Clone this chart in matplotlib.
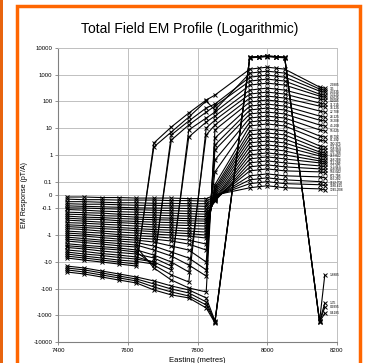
import matplotlib
matplotlib.use("Agg")
import matplotlib.pyplot as plt
from matplotlib.patches import Rectangle

plt.rcParams["font.family"] = ["Liberation Sans", "DejaVu Sans"]

# station eastings (metres)
eastings = [7425, 7475, 7525, 7575, 7625, 7675, 7725, 7775, 7825, 7850,
            7950, 7975, 8000, 8025, 8050, 8150, 8165]

# early time gates (the ones that go through the big positive peak)
early_times = ["0.4185", "0.9395", "1.35", "1.8885"]
early_gates = [
    [-24, -28.5, -37, -48, -62, -113, -173, -224, -530, -1920, 4300, 4500, 4800, 4500, 4300, -1750, -850],
    [-20, -24, -31, -40, -52, -87, -134, -189, -410, -1760, 4400, 4600, 4900, 4600, 4400, -1800, -500],
    [-17, -20, -26, -34, -44, -67, -104, -146, -316, -1760, 4500, 4700, 5000, 4700, 4500, -1700, -350],
    [-14.4, -17, -22, -28.5, -37, -52, -80, -113, -224, -1620, 4600, 4800, 5100, 4800, 4600, -1650, -31],
]

# mid time gates
mid_times = ["2.6885", "3.5", "4.3335", "5.3125", "6.5625", "8.2085", "11.215",
             "16.125", "22.708", "28.125", "38.208", "45.208", "55.625", "68.792"]
mid_gates = [
    [-7.2, -8.6, -10.2, -12.1, -14.4, 2.8, 11.1, 37, 113, 173, 1620, 1760, 1920, 1760, 1620, 345, 316],
    [-6.1, -7.2, -8.6, -10.2, -12.1, 1.99, 7.2, 26, 104, 48, 1150, 1250, 1360, 1250, 1150, 290, 266],
    [-5.1, -6.1, -7.2, -8.6, -9.7, -12.1, 5.6, 18.6, 57, 80, 810, 887, 970, 887, 810, 244, 224],
    [-4.3, -5.1, -5.8, -6.9, -7.9, -10.2, 3.6, 13.2, 40, 67, 580, 629, 690, 629, 580, 189, 173],
    [-3.6, -4.1, -4.9, -5.6, -6.6, -10.2, -20, 8.6, 24, 40, 410, 446, 485, 446, 410, 159, 146],
    [-2.9, -3.3, -3.95, -4.5, -5.1, -7.2, -14.4, 4.7, 17, 28.5, 266, 290, 316, 290, 266, 123, 113],
    [-2.5, -2.8, -3.2, -3.6, -4.3, -13.2, -31, -57, 10.2, 20, 189, 206, 224, 206, 189, 87, 80],
    [-2.1, -2.4, -2.7, -3.06, -3.6, -5.6, -10.2, -24, 5.6, 13.2, 134, 146, 159, 146, 134, 67, 62],
    [-1.67, -1.9, -2.17, -2.5, -2.8, -17, -48, -95, -134, 8.6, 95, 104, 113, 104, 95, 44, 40],
    [-1.41, -1.6, -1.82, -2.07, -2.36, -3.63, -6.08, -13.2, -34, 4.3, 67, 73, 80, 73, 67, 28.5, 26],
    [-1.19, -1.35, -1.54, -1.67, -1.9, -2.57, -4.31, -7.22, -20, 2.36, 48, 52, 57, 52, 48, 20, 18.6],
    [-1.0, -1.09, -1.24, -1.41, -1.54, -1.82, -2.57, -3.63, -10.2, 1.54, 34, 37, 40, 37, 34, 13.2, 12.1],
    [-0.84, -0.92, -1.05, -1.14, -1.29, -1.41, -1.67, -2.17, -3.63, 0.65, 24, 26, 28.5, 26, 24, 8.6, 7.9],
    [-0.71, -0.77, -0.84, -0.96, -1.05, -1.14, -1.29, -1.54, -2.17, 0.232, 17, 18.6, 20, 18.6, 17, 5.1, 4.7],
]

# late time gates
late_times = ["81.292", "100.375", "121.375", "145.958", "176.708", "213.042",
              "258.208", "311.208", "377.375", "458.958", "556.042", "672.708",
              "816.292", "1112.708", "1180.625", "1245.208"]
late_gates = [
    [-0.57, -0.62, -0.71, -0.77, -0.84, -0.92, -1.0, -1.09, -1.29, 0.077, 12.1, 13.2, 14.4, 13.2, 12.1, 3.6, 3.3],
    [-0.48, -0.52, -0.57, -0.62, -0.68, -0.74, -0.81, -0.88, -1.0, 0.054, 7.9, 8.6, 9.3, 8.6, 7.9, 2.17, 1.99],
    [-0.41, -0.44, -0.48, -0.52, -0.57, -0.62, -0.65, -0.71, -0.77, 0.038, 5.6, 6.1, 6.6, 6.1, 5.6, 1.67, 1.54],
    [-0.34, -0.36, -0.39, -0.42, -0.46, -0.50, -0.53, -0.57, -0.6, 0.023, 3.95, 4.3, 4.7, 4.3, 3.95, 1.29, 1.19],
    [-0.275, -0.30, -0.327, -0.34, -0.37, -0.41, -0.424, -0.44, -0.46, 0.008, 2.8, 3.06, 3.3, 3.06, 2.8, 1.09, 1.0],
    [-0.232, -0.253, -0.26, -0.29, -0.31, -0.327, -0.34, -0.357, -0.37, -0.008, 1.99, 2.17, 2.36, 2.17, 1.99, 0.918, 0.842],
    [-0.195, -0.213, -0.222, -0.24, -0.253, -0.264, -0.275, -0.29, -0.30, -0.023, 1.41, 1.54, 1.67, 1.54, 1.41, 0.709, 0.651],
    [-0.165, -0.172, -0.187, -0.195, -0.213, -0.222, -0.232, -0.242, -0.253, -0.031, 1.0, 1.09, 1.19, 1.09, 1.0, 0.597, 0.548],
    [-0.139, -0.145, -0.151, -0.165, -0.172, -0.179, -0.187, -0.195, -0.204, -0.038, 0.709, 0.773, 0.842, 0.773, 0.709, 0.503, 0.462],
    [-0.11, -0.117, -0.127, -0.133, -0.139, -0.145, -0.151, -0.158, -0.165, -0.046, 0.503, 0.548, 0.597, 0.548, 0.503, 0.389, 0.357],
    [-0.096, -0.098, -0.102, -0.107, -0.112, -0.117, -0.122, -0.127, -0.133, -0.038, 0.357, 0.389, 0.424, 0.389, 0.357, 0.30, 0.275],
    [-0.081, -0.085, -0.088, -0.092, -0.096, -0.098, -0.098, -0.102, -0.107, -0.031, 0.253, 0.275, 0.30, 0.275, 0.253, 0.232, 0.213],
    [-0.065, -0.069, -0.069, -0.073, -0.077, -0.077, -0.081, -0.081, -0.085, -0.023, 0.165, 0.179, 0.195, 0.179, 0.165, 0.151, 0.139],
    [-0.05, -0.05, -0.054, -0.058, -0.058, -0.062, -0.062, -0.065, -0.065, -0.015, 0.117, 0.127, 0.139, 0.127, 0.117, 0.10, 0.092],
    [-0.031, -0.035, -0.035, -0.038, -0.038, -0.038, -0.042, -0.042, -0.046, -0.008, 0.085, 0.092, 0.10, 0.092, 0.085, 0.077, 0.069],
    [-0.015, -0.015, -0.019, -0.019, -0.023, -0.023, -0.023, -0.027, -0.027, 0.0, 0.054, 0.062, 0.069, 0.062, 0.054, 0.046, 0.038],
]

y_ticks = [10000, 1000, 100, 10, 1, 0.1, 0, -0.1, -1, -10, -100, -1000, -10000]
y_tick_labels = ["10000", "1000", "100", "10", "1", "0.1", "0", "-0.1", "-1",
                 "-10", "-100", "-1000", "-10000"]
x_ticks = [7400, 7600, 7800, 8000, 8200]

W, H = 366, 363
fig = plt.figure(figsize=(W / 100, H / 100), dpi=100)
ax = fig.add_axes([58 / W, 1 - 342 / H, (337 - 58) / W, (342 - 48) / H])

all_times = early_times + mid_times + late_times
all_gates = early_gates + mid_gates + late_gates
for vals in all_gates:
    ax.plot(eastings, vals, color="black", lw=0.8, marker="x", ms=2.6, mew=0.7)

ax.set_yscale("symlog", linthresh=0.1, linscale=0.45)
ax.set_ylim(-10000, 10000)
ax.set_xlim(7400, 8200)

# end-of-line channel labels, nudged apart a little so they don't sit on top of each other
ends = [ax.transData.transform((eastings[-1], vals[-1]))[1] for vals in all_gates]
order = sorted(range(len(ends)), key=lambda i: ends[i])
pos = [ends[i] for i in order]
gap = 3.2
for _ in range(300):
    for j in range(len(pos) - 1):
        d = pos[j + 1] - pos[j]
        if d < gap:
            shift = (gap - d) / 2
            pos[j] -= shift
            pos[j + 1] += shift
for j, i in enumerate(order):
    dy = (pos[j] - ends[i]) * 72 / fig.dpi
    ax.annotate(all_times[i], xy=(eastings[-1], all_gates[i][-1]),
                xytext=(3.5, dy), textcoords="offset points",
                fontsize=2.3, va="center", ha="left", annotation_clip=False)

ax.set_yticks(y_ticks)
ax.set_yticklabels(y_tick_labels)
ax.set_xticks(x_ticks)
ax.yaxis.set_minor_locator(matplotlib.ticker.NullLocator())
ax.grid(True, color="#c0c0c0", lw=0.7)
ax.set_axisbelow(True)
ax.tick_params(labelsize=4.3, length=2, width=0.6, color="#808080", pad=2)

for side in ["top", "right"]:
    ax.spines[side].set_color("#c0c0c0")
    ax.spines[side].set_linewidth(0.7)
for side in ["left", "bottom"]:
    ax.spines[side].set_color("#808080")
    ax.spines[side].set_linewidth(0.8)

ax.set_xlabel("Easting (metres)", fontsize=5.5, labelpad=3)
ax.set_ylabel("EM Response (pT/A)", fontsize=5, labelpad=4)

fig.text(190 / W, 1 - 29 / H, "Total Field EM Profile (Logarithmic)",
         fontsize=10, ha="center", va="center")

# orange frame
orange = "#ff6600"
fig.add_artist(Rectangle((16.5 / W, -0.05), (360 - 16.5) / W, 1.05 - 6.5 / H,
                         transform=fig.transFigure, fill=False,
                         edgecolor=orange, lw=2.5))
fig.add_artist(Rectangle((0, 0), 3 / W, 1, transform=fig.transFigure,
                         facecolor="#e8640f", edgecolor="none"))

fig.savefig("out.png", dpi=100)
